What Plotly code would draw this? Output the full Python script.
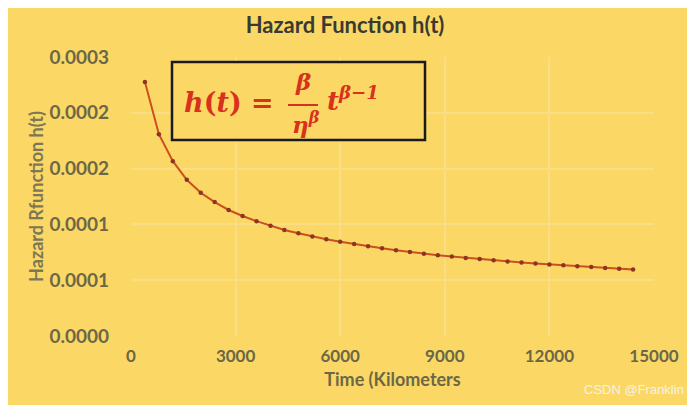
import plotly.graph_objects as go

# time points (km) and hazard rate
time_km = [400, 800, 1200, 1600, 2000, 2400, 2800, 3200, 3600, 4000,
           4400, 4800, 5200, 5600, 6000, 6400, 6800, 7200, 7600, 8000,
           8400, 8800, 9200, 9600, 10000, 10400, 10800, 11200, 11600, 12000,
           12400, 12800, 13200, 13600, 14000, 14400]
hazard = [0.000273, 0.000217, 0.000188, 0.000168, 0.000154, 0.000144,
          0.0001355, 0.000129, 0.0001235, 0.0001185, 0.000114, 0.0001105,
          0.000107, 0.000104, 0.0001013, 0.0000988, 0.0000965, 0.0000943,
          0.0000922, 0.0000902, 0.0000885, 0.0000869, 0.0000854, 0.000084,
          0.0000827, 0.0000814, 0.0000802, 0.0000791, 0.000078, 0.000077,
          0.000076, 0.000075, 0.0000741, 0.0000732, 0.0000724, 0.0000716]

x_ticks = [0, 3000, 6000, 9000, 12000, 15000]
y_ticks = [0, 0.00006, 0.00012, 0.00018, 0.00024, 0.0003]
y_ticktext = [f"{v:.4f}" for v in y_ticks]

# the page body adds an 8px margin, so lay out in page pixels minus 8
OFF = 8
W, H = 695 - OFF, 405 - OFF
L, T = 131 - OFF, 57 - OFF
R, B = W - (654 - OFF), H - (336 - OFF)
PW, PH = W - L - R, H - T - B


def px(x):
    return (x - OFF - L) / PW


def py(y):
    return (H - B - (y - OFF)) / PH


BG = "#FBD866"
GRID = "#F9DE85"
TICK = "#6C6746"
RED = "#D8321C"

fig = go.Figure()
fig.add_trace(go.Scatter(
    x=time_km, y=hazard, mode="lines+markers",
    line=dict(color="#CC4F1E", width=2),
    marker=dict(color="#8A3626", size=4.5),
    showlegend=False,
))

fig.update_layout(
    width=W, height=H,
    margin=dict(l=L, r=R, t=T, b=B, autoexpand=False),
    paper_bgcolor=BG, plot_bgcolor=BG,
    font=dict(family="Lato", color=TICK),
    title=dict(text="<b>Hazard Function h(t)</b>", x=px(345), xref="paper",
               xanchor="center", y=1 - (25 - OFF) / H, yanchor="middle",
               font=dict(size=22, color="#3A3A32", family="Lato")),
)
fig.update_xaxes(
    range=[0, 15000], tickvals=x_ticks, ticktext=[str(v) for v in x_ticks],
    showgrid=True, gridcolor=GRID, gridwidth=1.5, zeroline=False,
    showline=False, ticks="", ticklabelstandoff=8,
    tickfont=dict(size=17, family="Lato", color=TICK, weight="bold"),
    title=dict(text="<b>Time (Kilometers</b>", standoff=8,
               font=dict(size=18, family="Lato", color=TICK)),
)
fig.update_yaxes(
    range=[0, 0.0003], tickvals=y_ticks, ticktext=y_ticktext,
    showgrid=True, gridcolor=GRID, gridwidth=1.5, zeroline=False,
    showline=False, ticks="", ticklabelstandoff=21,
    tickfont=dict(size=19, family="Lato", color=TICK, weight="bold"),
    title=dict(text="<b>Hazard Rfunction h(t)</b>", standoff=1,
               font=dict(size=18, family="Lato", color="#7D7755")),
)

# formula box
fig.add_shape(type="rect", xref="paper", yref="paper",
              x0=px(172), x1=px(425), y0=py(140), y1=py(62),
              line=dict(color="#1A1A1A", width=2.5), fillcolor=BG)
fig.add_shape(type="line", xref="paper", yref="paper",
              x0=px(288), x1=px(318), y0=py(105), y1=py(105),
              line=dict(color=RED, width=2))

serif = "DejaVu Serif"
fig.add_annotation(xref="paper", yref="paper", x=px(182), y=py(102),
                   xanchor="left", yanchor="middle", showarrow=False,
                   text="<b><i>h</i>(<i>t</i>) =</b>",
                   font=dict(family=serif, size=27, color=RED))
fig.add_annotation(xref="paper", yref="paper", x=px(303), y=py(82),
                   xanchor="center", yanchor="middle", showarrow=False,
                   text="<b><i>β</i></b>",
                   font=dict(family=serif, size=23, color=RED))
fig.add_annotation(xref="paper", yref="paper", x=px(306), y=py(123),
                   xanchor="center", yanchor="middle", showarrow=False,
                   text="<b><i>η<sup>β</sup></i></b>",
                   font=dict(family=serif, size=23, color=RED))
fig.add_annotation(xref="paper", yref="paper", x=px(325), y=py(99),
                   xanchor="left", yanchor="middle", showarrow=False,
                   text="<b><i>t<sup>β−1</sup></i></b>",
                   font=dict(family=serif, size=26, color=RED))

# image frame edge and watermark
fig.add_shape(type="line", xref="paper", yref="paper",
              x0=px(690), x1=px(690), y0=py(0), y1=py(405),
              line=dict(color="#B58C55", width=2))
fig.add_annotation(xref="paper", yref="paper", x=px(686), y=py(389),
                   xanchor="right", yanchor="middle", showarrow=False,
                   text="CSDN @Franklin",
                   font=dict(family="Liberation Sans", size=13, color="#F4F1EA"))

fig.write_html("out.html")
